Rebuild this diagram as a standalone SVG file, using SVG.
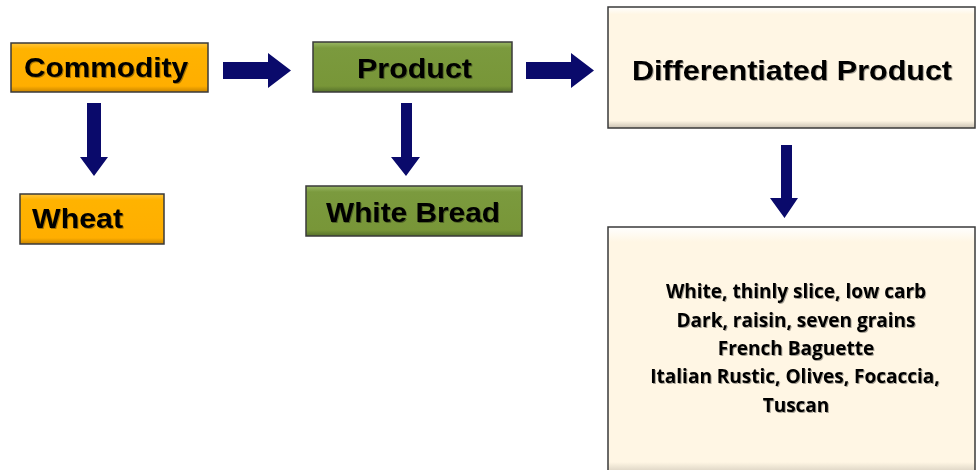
<svg xmlns="http://www.w3.org/2000/svg" width="976" height="470" viewBox="0 0 976 470">
<style>
.lbl{font-family:"Liberation Sans",Arial,sans-serif;font-weight:bold;fill:#000;font-size:27px}
.list{font-family:"Open Sans","Liberation Sans",sans-serif;font-weight:bold;fill:#000;font-size:19px;text-anchor:middle}
.box{stroke:#3a3a3a;stroke-width:1.5}
.arr{fill:#0a0a6b}
</style>
<defs>
<linearGradient id="og" x1="0" y1="0" x2="0" y2="1"><stop offset="0" stop-color="#FFC640"/><stop offset="0.12" stop-color="#FFB300"/><stop offset="0.88" stop-color="#FFAE00"/><stop offset="1" stop-color="#C88400"/></linearGradient>
<linearGradient id="gg" x1="0" y1="0" x2="0" y2="1"><stop offset="0" stop-color="#9AB865"/><stop offset="0.12" stop-color="#7B9A3E"/><stop offset="0.88" stop-color="#789638"/><stop offset="1" stop-color="#56702A"/></linearGradient>
<linearGradient id="cg" x1="0" y1="0" x2="0" y2="1"><stop offset="0" stop-color="#FFFFFF"/><stop offset="0.06" stop-color="#FFF6E4"/><stop offset="0.94" stop-color="#FFF6E4"/><stop offset="1" stop-color="#C9C1B2"/></linearGradient>
<filter id="ts" x="-5%" y="-20%" width="110%" height="140%"><feDropShadow dx="1" dy="1" stdDeviation="0.6" flood-color="#000" flood-opacity="0.35"/></filter>
</defs>
<rect width="976" height="470" fill="#fff"/>
<g id="commodity"><rect class="box" x="11" y="43" width="197" height="49" fill="url(#og)"/><text class="lbl" x="24" y="77" textLength="164" lengthAdjust="spacingAndGlyphs" filter="url(#ts)">Commodity</text></g>
<g id="wheat"><rect class="box" x="20" y="194" width="144" height="50" fill="url(#og)"/><text class="lbl" x="32" y="228" textLength="91" lengthAdjust="spacingAndGlyphs" filter="url(#ts)">Wheat</text></g>
<g id="product"><rect class="box" x="313" y="42" width="199" height="50" fill="url(#gg)"/><text class="lbl" x="357" y="78" textLength="115" lengthAdjust="spacingAndGlyphs" filter="url(#ts)">Product</text></g>
<g id="whitebread"><rect class="box" x="306" y="186" width="216" height="50" fill="url(#gg)"/><text class="lbl" x="326" y="222" textLength="174" lengthAdjust="spacingAndGlyphs" filter="url(#ts)">White Bread</text></g>
<g id="diffproduct"><rect class="box" x="608" y="7" width="367" height="121" fill="url(#cg)"/><text class="lbl" x="632" y="80" textLength="320" lengthAdjust="spacingAndGlyphs" filter="url(#ts)">Differentiated Product</text></g>
<g id="varieties"><rect class="box" x="608" y="227" width="367" height="250" fill="url(#cg)"/>
<text class="list" filter="url(#ts)"><tspan x="796" y="298">White, thinly slice, low carb</tspan><tspan x="796" y="327">Dark, raisin, seven grains</tspan><tspan x="796" y="355">French Baguette</tspan><tspan x="795" y="383">Italian Rustic, Olives, Focaccia,</tspan><tspan x="796" y="412">Tuscan</tspan></text></g>
<g id="connectors">
<polygon class="arr" points="87,103 101,103 101,157 108,157 94,176 80,157 87,157"/>
<polygon class="arr" points="223,62 268,62 268,53 291,70.5 268,88 268,79 223,79"/>
<polygon class="arr" points="401,103 412,103 412,157 420,157 406,176 391,157 401,157"/>
<polygon class="arr" points="526,62 571,62 571,53 594,70.5 571,88 571,79 526,79"/>
<polygon class="arr" points="781,145 792,145 792,198 798,198 784.5,218 770,198 781,198"/>
</g>
</svg>
